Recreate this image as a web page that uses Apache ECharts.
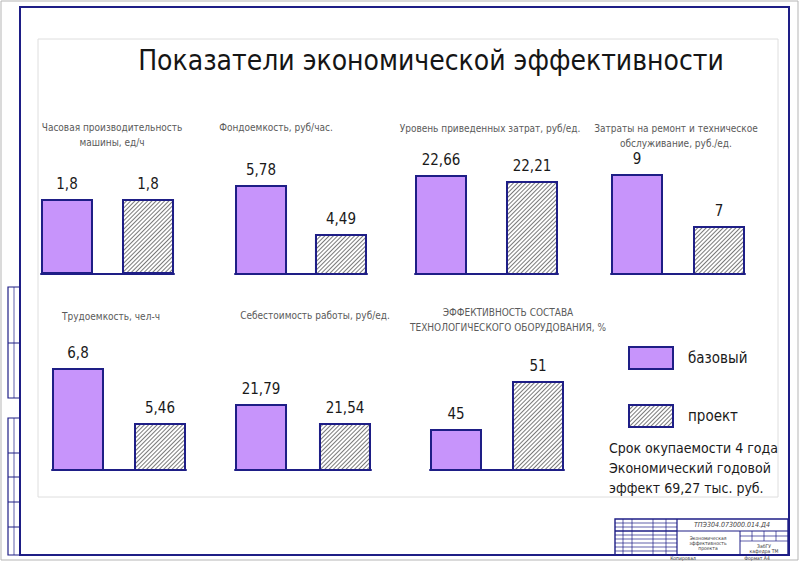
<!DOCTYPE html>
<html><head><meta charset="utf-8">
<script src="https://cdn.jsdelivr.net/npm/echarts@6/dist/echarts.min.js"></script>
<style>html,body{margin:0;padding:0;background:#fff}#c{width:800px;height:562px}</style>
</head><body><div id="c"></div>
<script>
const mainTitle = 'Показатели экономической эффективности';
const chartTitles = [
  'Часовая производительность\nмашины, ед/ч',
  'Фондоемкость, руб/час.',
  'Уровень приведенных затрат, руб/ед.',
  'Затраты на ремонт и техническое\nобслуживание, руб./ед.',
  'Трудоемкость, чел-ч',
  'Себестоимость работы, руб/ед.',
  'ЭФФЕКТИВНОСТЬ СОСТАВА\nТЕХНОЛОГИЧЕСКОГО ОБОРУДОВАНИЯ, %'
];
const seriesNames = ['базовый', 'проект'];
const baseValues = [1.8, 5.78, 22.66, 9, 6.8, 21.79, 45];
const projectValues = [1.8, 4.49, 22.21, 7, 5.46, 21.54, 51];
const axisMin = [0, 3.437, 15.235, 5.154, 4.315, 20.922, 39.875];
const axisMax = [2.64, 6.333, 23.485, 9.385, 6.995, 22.369, 53.625];
const noteLines = ['Срок окупаемости 4 года', 'Экономический годовой', 'эффект 69,27 тыс. руб.'];

const FONT = '"DejaVu Sans Condensed", "DejaVu Sans", sans-serif';
const NAVY = '#1e1e86';
const layout = [
  {left: 41,  width: 133, top: 164, bottom: 274, gap: 29, tx: 112, ty: 120},
  {left: 235, width: 132, top: 164, bottom: 274, gap: 28, tx: 276, ty: 120},
  {left: 415, width: 143, top: 164, bottom: 274, gap: 39, tx: 490, ty: 121},
  {left: 611, width: 134, top: 164, bottom: 274, gap: 30, tx: 676, ty: 121},
  {left: 52,  width: 134, top: 360, bottom: 470, gap: 30, tx: 111, ty: 309},
  {left: 235, width: 136, top: 360, bottom: 470, gap: 32, tx: 315, ty: 308},
  {left: 430, width: 134, top: 360, bottom: 470, gap: 30, tx: 508, ty: 305}
];
const BW = 52;

const grids = [], xAxes = [], yAxes = [], series = [], titles = [];
titles.push({text: mainTitle, left: 431, top: 46, textAlign: 'center', padding: 0,
  textStyle: {fontFamily: FONT, fontSize: 28, fontWeight: 'normal', color: '#151515'}});
layout.forEach((l, i) => {
  grids.push({left: l.left, width: l.width, top: l.top, height: l.bottom - l.top});
  xAxes.push({type: 'category', gridIndex: i, data: [''],
    axisLine: {onZero: false, lineStyle: {color: NAVY, width: 2}},
    axisTick: {show: false}, axisLabel: {show: false}});
  yAxes.push({type: 'value', gridIndex: i, min: axisMin[i], max: axisMax[i], show: false,
    splitLine: {show: false}});
  const gapPct = (l.gap / BW * 100).toFixed(1) + '%';
  const label = {show: true, position: 'top', distance: 8, fontFamily: FONT, fontSize: 15,
    color: '#1a1a1a', formatter: p => String(p.value).replace('.', ',')};
  series.push({type: 'bar', name: seriesNames[0], xAxisIndex: i, yAxisIndex: i,
    data: [baseValues[i]], barWidth: BW, barGap: gapPct, label,
    itemStyle: {color: '#c794fb', borderColor: NAVY, borderWidth: 2}});
  series.push({type: 'bar', name: seriesNames[1], xAxisIndex: i, yAxisIndex: i,
    data: [projectValues[i]], barWidth: BW, barGap: gapPct, label,
    itemStyle: {color: '#ffffff', borderColor: NAVY, borderWidth: 2,
      decal: {symbol: 'rect', symbolSize: 1, color: '#7a7a7a', dashArrayX: [1, 0],
        dashArrayY: [0.9, 1.6], rotation: -Math.PI / 4}}});
  titles.push({text: chartTitles[i], left: l.tx, top: l.ty, textAlign: 'center', padding: 0,
    textStyle: {fontFamily: FONT, fontSize: 10, fontWeight: 'normal', color: '#5a5a5a',
      lineHeight: 15}});
});
titles.push({text: noteLines.join('\n'), left: 609, top: 438, padding: 0,
  textStyle: {fontFamily: FONT, fontSize: 14, fontWeight: 'normal', color: '#1a1a1a', lineHeight: 20}});

const thin = {stroke: NAVY, lineWidth: 0.7};
const gfx = [];
function rect(x, y, w, h, style) { gfx.push({type: 'rect', shape: {x, y, width: w, height: h}, style: Object.assign({fill: 'none'}, style), silent: true}); }
function line(x1, y1, x2, y2, style) { gfx.push({type: 'line', shape: {x1, y1, x2, y2}, style: style || thin, silent: true}); }
function txt(x, y, t, size, align, extra) { gfx.push({type: 'text', x, y, style: Object.assign({text: t, fontSize: size, fontFamily: FONT, fill: '#333', align: align || 'center', verticalAlign: 'middle'}, extra || {}), silent: true}); }
rect(1, 1, 797, 559, {stroke: '#b5b5b5', lineWidth: 1});
rect(20, 7, 769, 548, {stroke: NAVY, lineWidth: 2});
rect(38, 39, 740, 458, {stroke: '#dedede', lineWidth: 1});
// left strip
rect(8, 287, 12, 111, {stroke: NAVY, lineWidth: 1.2});
rect(8, 418, 12, 137, {stroke: NAVY, lineWidth: 1.2});
line(14, 287, 14, 398); line(14, 418, 14, 555);
[343].forEach(y => line(8, y, 20, y, {stroke: NAVY, lineWidth: 1}));
[453, 477, 502, 527].forEach(y => line(8, y, 20, y, {stroke: NAVY, lineWidth: 1}));
// title block
rect(615, 519, 173, 36, {stroke: NAVY, lineWidth: 1.4});
[623, 632, 653, 666].forEach(x => line(x, 519, x, 555));
line(677, 519, 677, 555, {stroke: NAVY, lineWidth: 1.2});
[523, 527, 535, 539, 543, 547, 551].forEach(y => line(615, y, 677, y));
line(615, 531, 677, 531, {stroke: NAVY, lineWidth: 1.4});
line(677, 531, 788, 531, {stroke: NAVY, lineWidth: 1.2});
line(740, 531, 740, 555, {stroke: NAVY, lineWidth: 1});
[536, 541].forEach(y => line(740, y, 788, y));
[752, 764, 776].forEach(x => line(x, 531, x, 541));
txt(732, 525, 'ТПЭ304.073000.014.Д4', 7, 'center', {fontStyle: 'italic', fill: '#444'});
txt(708, 543, 'Экономическая\nэффективность\nпроекта', 5, 'center', {lineHeight: 5});
txt(764, 548, 'ЗабГУ\nкафедра ТМ', 5, 'center', {lineHeight: 5});
txt(683, 558, 'Копировал', 5);
txt(757, 558, 'Формат А4', 5);

const chart = echarts.init(document.getElementById('c'), null, {renderer: 'svg'});
chart.setOption({
  animation: false,
  backgroundColor: '#ffffff',
  title: titles,
  legend: {data: seriesNames, orient: 'vertical', left: 628, top: 346, itemWidth: 44, itemHeight: 22,
    itemGap: 34, padding: 0, icon: 'rect', selectedMode: false,
    textStyle: {fontFamily: FONT, fontSize: 15, color: '#1a1a1a', padding: [0, 0, 0, 10]}},
  grid: grids, xAxis: xAxes, yAxis: yAxes, series: series,
  graphic: gfx
});
</script></body></html>
